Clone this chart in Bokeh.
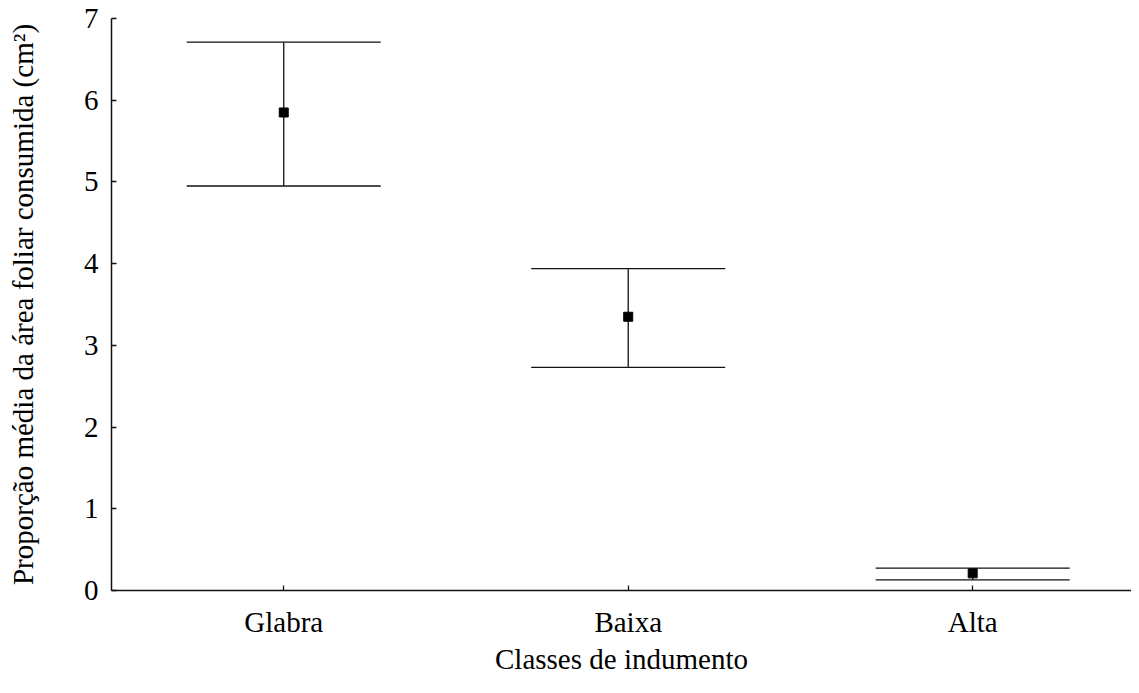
from bokeh.plotting import figure
from bokeh.models import ColumnDataSource, Whisker, TeeHead, Range1d, FixedTicker
from bokeh.embed import file_html
from bokeh.resources import INLINE

categories = ["Glabra", "Baixa", "Alta"]
means = [5.85, 3.35, 0.21]
upper = [6.71, 3.94, 0.275]
lower = [4.95, 2.73, 0.13]
y_ticks = [0, 1, 2, 3, 4, 5, 6, 7]

xs = [i + 1 for i in range(len(categories))]
src = ColumnDataSource(dict(x=xs, mean=means, upper=upper, lower=lower))

FONT = "Liberation Serif"
INK = "#111111"

p = figure(width=1131, height=677, output_backend="svg", toolbar_location=None,
           x_range=Range1d(0.5, 3.461), y_range=Range1d(0, 7),
           min_border_left=111, min_border_top=18, min_border_right=0, min_border_bottom=0)
p.outline_line_color = None
p.xgrid.visible = False
p.ygrid.visible = False
p.background_fill_color = "white"

w = Whisker(source=src, base="x", upper="upper", lower="lower", dimension="height",
            line_color=INK, line_width=1.3,
            upper_head=TeeHead(size=194, line_color=INK, line_width=1.3),
            lower_head=TeeHead(size=194, line_color=INK, line_width=1.3))
p.add_layout(w)
p.scatter("x", "mean", source=src, marker="square", size=9, fill_color="black", line_color="black")

p.xaxis.ticker = FixedTicker(ticks=xs)
p.xaxis.major_label_overrides = {x: c for x, c in zip(xs, categories)}
p.yaxis.ticker = FixedTicker(ticks=y_ticks)

for ax in (p.xaxis, p.yaxis):
    ax.axis_line_color = INK
    ax.axis_line_width = 1.5
    ax.major_tick_line_color = INK
    ax.major_tick_line_width = 1.3
    ax.major_tick_in = 5
    ax.major_tick_out = 0
    ax.minor_tick_line_color = None
    ax.major_label_text_font = FONT
    ax.major_label_text_font_size = "29px"
    ax.major_label_text_color = "black"
    ax.axis_label_text_font = FONT
    ax.axis_label_text_font_size = "29px"
    ax.axis_label_text_font_style = "normal"
    ax.axis_label_text_color = "black"

p.xaxis.axis_label = "Classes de indumento"
p.yaxis.axis_label = "Proporção média da área foliar consumida (cm²)"
p.xaxis.major_label_standoff = 15
p.xaxis.axis_label_standoff = 2
p.yaxis.major_label_standoff = 13
p.yaxis.axis_label_standoff = 42

open("out.html", "w").write(file_html(p, INLINE))
